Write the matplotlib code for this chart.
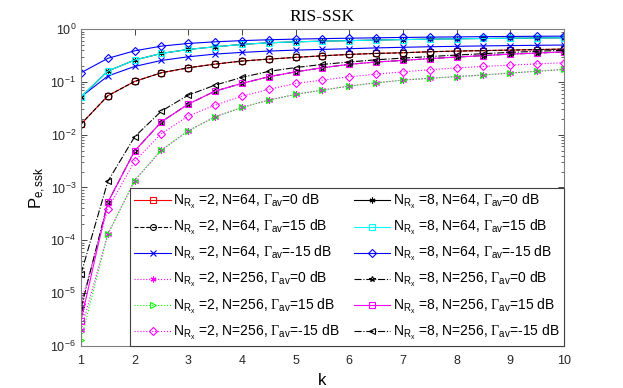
import matplotlib
matplotlib.use("Agg")
import matplotlib.pyplot as plt

plt.rcParams["font.family"] = ["Liberation Sans", "DejaVu Sans"]
plt.rcParams["mathtext.fontset"] = "custom"
plt.rcParams["mathtext.rm"] = "Liberation Serif"
plt.rcParams["mathtext.sf"] = "Liberation Sans"
plt.rcParams["mathtext.it"] = "Liberation Sans:italic"

k = [1, 1.5, 2, 2.5, 3, 3.5, 4, 4.5, 5, 5.5, 6, 6.5, 7, 7.5, 8, 8.5, 9, 9.5, 10]

# N_Rx = 2
p2_64_0 = [0.0158, 0.0545, 0.102, 0.149, 0.185, 0.217, 0.248, 0.270, 0.291, 0.312,
           0.331, 0.346, 0.356, 0.372, 0.383, 0.391, 0.400, 0.409, 0.418]
p2_64_15 = [0.0158, 0.0545, 0.102, 0.149, 0.185, 0.217, 0.248, 0.270, 0.291, 0.312,
            0.331, 0.346, 0.356, 0.372, 0.383, 0.391, 0.400, 0.409, 0.418]
p2_64_m15 = [0.052, 0.129, 0.196, 0.255, 0.299, 0.336, 0.362, 0.383, 0.400, 0.412,
             0.425, 0.440, 0.452, 0.463, 0.472, 0.480, 0.487, 0.493, 0.499]
p2_256_0 = [2.0e-6, 1.3e-4, 1.35e-3, 5.1e-3, 0.0118, 0.0218, 0.0328, 0.0451, 0.058, 0.0698,
            0.0832, 0.096, 0.108, 0.117, 0.126, 0.135, 0.147, 0.159, 0.172]
p2_256_15 = [1.3e-6, 1.3e-4, 1.35e-3, 5.1e-3, 0.0118, 0.0218, 0.0328, 0.0451, 0.058, 0.0698,
             0.0832, 0.096, 0.108, 0.117, 0.126, 0.135, 0.147, 0.159, 0.172]
p2_256_m15 = [6.3e-6, 3.9e-4, 3.15e-3, 0.0105, 0.0225, 0.0363, 0.0537, 0.072, 0.0935, 0.108,
              0.125, 0.140, 0.155, 0.170, 0.184, 0.196, 0.208, 0.219, 0.230]

# N_Rx = 8
p8_64_0 = [0.052, 0.160, 0.259, 0.346, 0.412, 0.462, 0.513, 0.550, 0.574, 0.590,
           0.605, 0.620, 0.633, 0.645, 0.655, 0.664, 0.671, 0.678, 0.684]
p8_64_15 = [0.052, 0.160, 0.259, 0.346, 0.412, 0.462, 0.513, 0.550, 0.574, 0.590,
            0.605, 0.620, 0.633, 0.645, 0.655, 0.664, 0.671, 0.678, 0.684]
p8_64_m15 = [0.149, 0.279, 0.388, 0.476, 0.535, 0.574, 0.605, 0.628, 0.646, 0.660,
             0.672, 0.684, 0.695, 0.704, 0.712, 0.719, 0.725, 0.731, 0.736]
p8_256_0 = [5.1e-6, 5.2e-4, 4.9e-3, 0.0175, 0.0379, 0.0668, 0.0935, 0.125, 0.155, 0.185,
            0.215, 0.238, 0.255, 0.276, 0.295, 0.315, 0.336, 0.351, 0.371]
p8_256_15 = [3.0e-6, 5.2e-4, 4.9e-3, 0.0175, 0.0379, 0.0668, 0.0935, 0.125, 0.155, 0.185,
             0.215, 0.238, 0.255, 0.276, 0.295, 0.315, 0.336, 0.351, 0.371]
p8_256_m15 = [2.3e-5, 1.3e-3, 9.1e-3, 0.028, 0.0561, 0.0869, 0.1216, 0.158, 0.187, 0.214,
              0.238, 0.262, 0.282, 0.302, 0.322, 0.342, 0.362, 0.380, 0.398]

ASTER = (6, 2, 0)


def lab(nrx, n, g):
    return (r"N$_{\mathsf{R}_{\mathsf{x}}}$ =%d, N=%d, $\Gamma_{\mathsf{av}}$=%s dB"
            % (nrx, n, g))


series = [
    (p2_64_0, "#ff0000", "-", "s", lab(2, 64, "0")),
    (p2_64_15, "black", "--", "o", lab(2, 64, "15")),
    (p2_64_m15, "#0000ff", "-", "x", lab(2, 64, "-15")),
    (p2_256_0, "#ff00ff", ":", ASTER, lab(2, 256, "0")),
    (p2_256_15, "#00ff00", ":", ">", lab(2, 256, "15")),
    (p2_256_m15, "#ff00ff", ":", "D", lab(2, 256, "-15")),
    (p8_64_0, "black", "-", ASTER, lab(8, 64, "0")),
    (p8_64_15, "#00ffff", "-", "s", lab(8, 64, "15")),
    (p8_64_m15, "#0000ff", "-", "D", lab(8, 64, "-15")),
    (p8_256_0, "black", "-.", "*", lab(8, 256, "0")),
    (p8_256_15, "#ff00ff", "-", "s", lab(8, 256, "15")),
    (p8_256_m15, "black", "-.", "<", lab(8, 256, "-15")),
]

fig = plt.figure(figsize=(6.23, 3.88), dpi=100)
ax = fig.add_axes([0.130, 0.109, 0.775, 0.816])

for vals, col, ls, mk, label in series:
    ms = 4.5 if mk == "D" else 5
    ax.semilogy(k, vals, color=col, linestyle=ls, linewidth=0.8, marker=mk,
                markersize=ms, markerfacecolor="none", markeredgewidth=0.8,
                label=label)

ax.set_xlim(1, 10)
ax.set_ylim(1e-6, 1)
ax.set_xticks(range(1, 11))
ax.tick_params(which="both", direction="in", top=True, right=True,
               labelsize=9, colors="#262626")
ax.tick_params(which="major", length=4, width=0.6)
ax.tick_params(axis="x", which="major", pad=7)
ax.tick_params(which="minor", length=2, width=0.5)
for sp in ax.spines.values():
    sp.set_color("#7f7f7f")
    sp.set_linewidth(0.8)

ax.set_title("RIS-SSK", fontfamily="Liberation Serif", fontsize=12.5, pad=6)
ax.set_xlabel("k", fontsize=12, labelpad=4)
ax.set_ylabel(r"P$_{\mathsf{e,ssk}}$", fontsize=12, labelpad=2)

leg = ax.legend(ncol=2, loc="lower right", fontsize=10, numpoints=1,
                markerscale=0.85, handlelength=2.6, handletextpad=0.2,
                columnspacing=1.0, labelspacing=0.5, borderaxespad=0,
                borderpad=0.3, fancybox=False, framealpha=1)
leg.get_frame().set_edgecolor("#404040")
leg.get_frame().set_linewidth(0.8)

fig.savefig("out.png", dpi=100)
